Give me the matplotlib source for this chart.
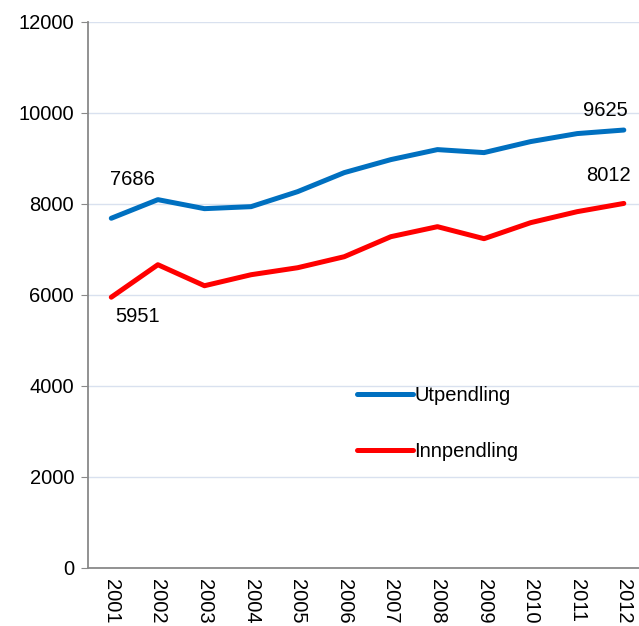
import matplotlib
matplotlib.use('Agg')
import matplotlib.pyplot as plt
import matplotlib.ticker

years = ['2001', '2002', '2003', '2004', '2005', '2006',
         '2007', '2008', '2009', '2010', '2011', '2012']
utpendling = [7686, 8095, 7897, 7941, 8271, 8689,
              8975, 9195, 9129, 9371, 9547, 9625]
innpendling = [5951, 6665, 6203, 6445, 6599, 6841,
               7281, 7501, 7237, 7589, 7831, 8012]

plt.rcParams['font.family'] = ['Liberation Sans', 'DejaVu Sans']
fs = 14.5

figure = plt.figure(figsize=(6.39, 6.26), dpi=100)
axes = figure.add_axes([0.1377, 0.0927, 0.875, 0.8722])

x = list(range(len(years)))
axes.plot(x, utpendling, c='#0070C0', lw=3.6, label='Utpendling',
          solid_capstyle='round')
axes.plot(x, innpendling, c='#FF0000', lw=3.6, label='Innpendling',
          solid_capstyle='round')

axes.set_xlim(-0.5, len(years) - 0.5)
axes.set_ylim(0, 12000)
axes.yaxis.set_major_locator(matplotlib.ticker.MultipleLocator(2000))
axes.grid(axis='y', c='#D9E1EF', lw=1)
axes.set_axisbelow(True)

axes.set_xticks(x)
axes.set_xticklabels(years, rotation=-90, va='top', ha='center')
axes.tick_params(axis='x', length=0, labelsize=fs, pad=8)
axes.tick_params(axis='y', length=5, color='#898989', labelsize=fs,
                 direction='out', pad=5)

for side in ('top', 'right'):
    axes.spines[side].set_visible(False)
for side in ('left', 'bottom'):
    axes.spines[side].set_color('#898989')
    axes.spines[side].set_linewidth(1.3)

# End-point labels
axes.annotate(f'{utpendling[0]}', (x[0], utpendling[0]),
              xytext=(21, 39), textcoords='offset pixels',
              ha='center', va='center', fontsize=fs)
axes.annotate(f'{innpendling[0]}', (x[0], innpendling[0]),
              xytext=(26, -19), textcoords='offset pixels',
              ha='center', va='center', fontsize=fs)
axes.annotate(f'{utpendling[-1]}', (x[-1], utpendling[-1]),
              xytext=(-18, 20), textcoords='offset pixels',
              ha='center', va='center', fontsize=fs)
axes.annotate(f'{innpendling[-1]}', (x[-1], innpendling[-1]),
              xytext=(-15, 28), textcoords='offset pixels',
              ha='center', va='center', fontsize=fs)

axes.legend(loc='upper left', bbox_to_anchor=(0.449, 0.367),
            frameon=False, fontsize=fs, handlelength=2.75,
            handletextpad=0.1, labelspacing=1.85)

figure.savefig('out.png', dpi=100)
